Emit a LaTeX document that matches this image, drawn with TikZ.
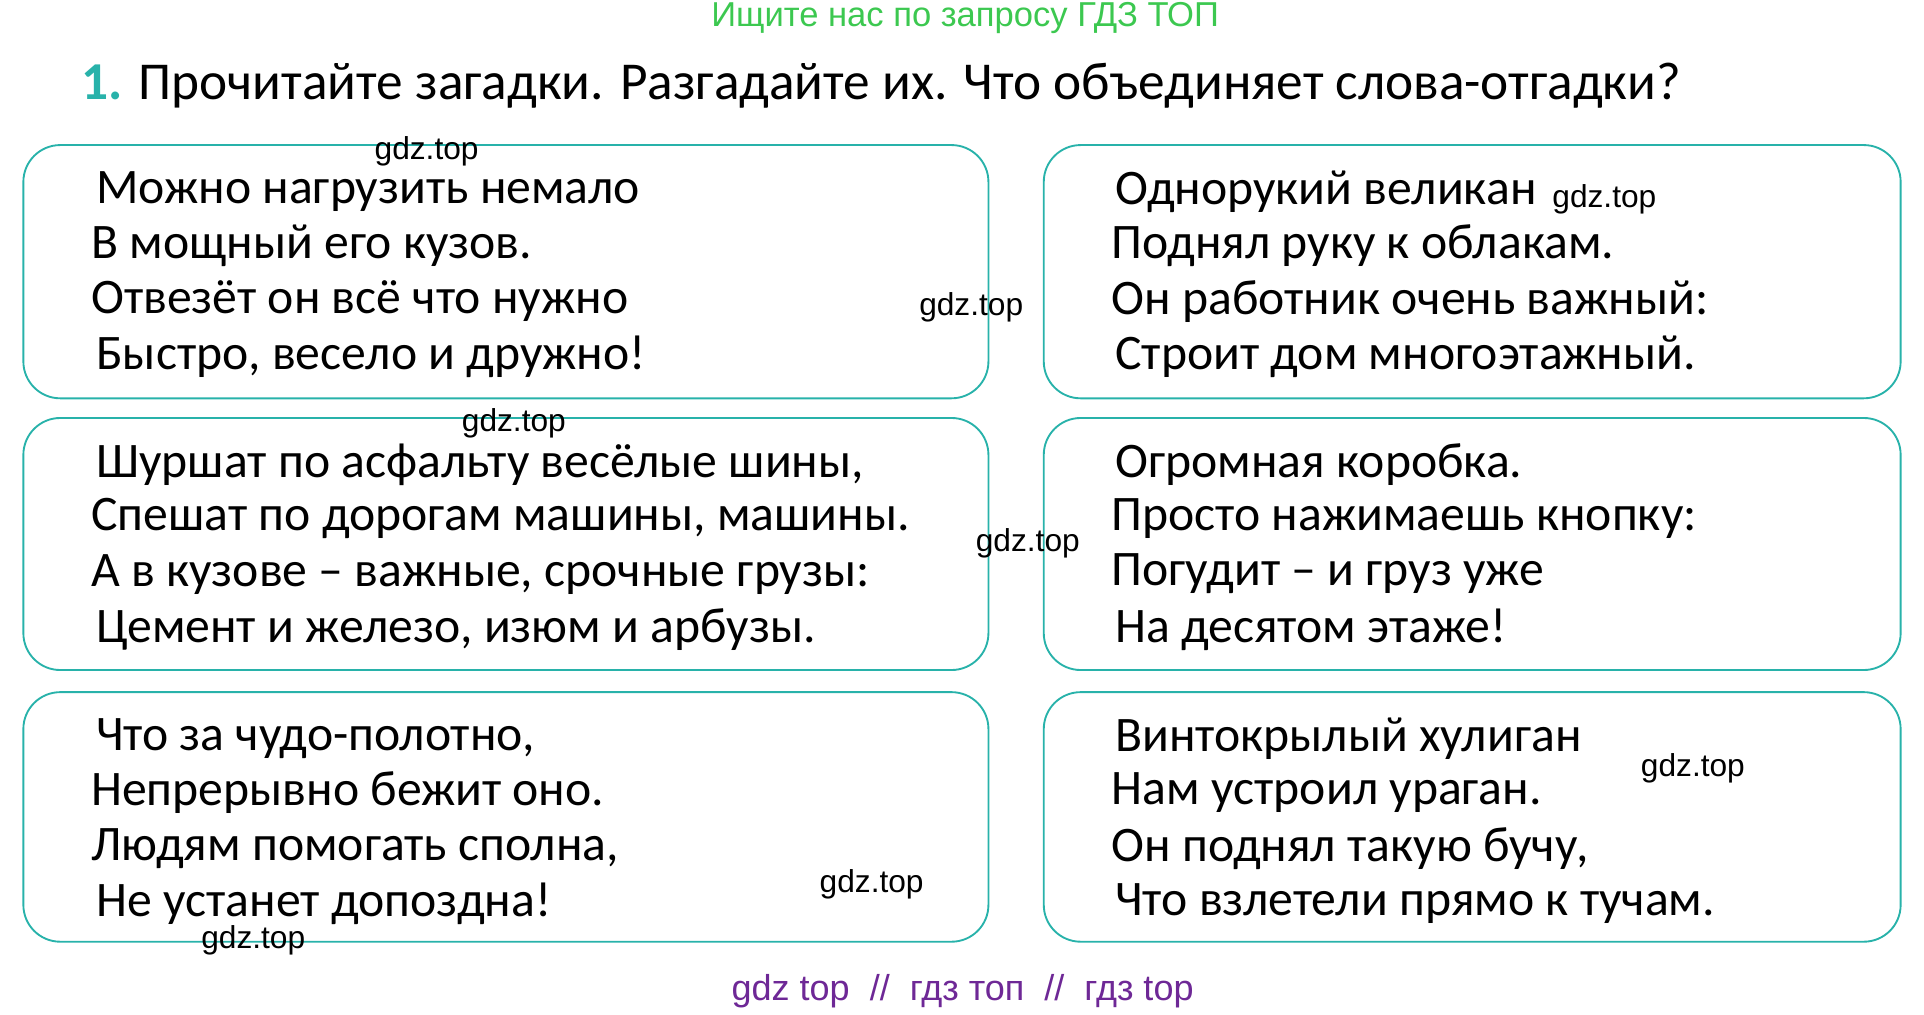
\documentclass[tikz,border=0pt]{standalone}
\usepackage{fontspec}
\setmainfont{Carlito}
\newfontfamily\wm{Liberation Sans}
\definecolor{teal1}{RGB}{40,178,170}
\definecolor{grn}{RGB}{60,200,80}
\definecolor{purp}{RGB}{110,40,150}
\begin{document}
\begin{tikzpicture}[x=0.03cm,y=-0.03cm,
  box/.style={draw=teal1,line width=1.3pt,rounded corners=0.9cm},
  vers/.style={anchor=west,font=\fontsize{34.5}{40}\selectfont,inner sep=0pt},
  wmk/.style={font=\wm\fontsize{22}{26}\selectfont,inner sep=0pt}]
\useasboundingbox (0,0) rectangle (1565,825);
\node[font=\wm\fontsize{24}{28}\selectfont,text=grn] (top) at (785,15) {Ищите нас по запросу ГДЗ ТОП};
\node[anchor=west,inner sep=0pt,font=\fontsize{37}{44}\selectfont] (title) at (66,70) {\textcolor{teal1}{\textbf{1.}} Прочитайте загадки. Разгадайте их. Что объединяет слова-отгадки?};
\foreach \n/\x/\y/\w/\h in {b1/19/118/785/206,b2/849/118/697/206,b3/19/340/785/205,b4/849/340/697/205,b5/19/563/785/203,b6/849/563/697/203}
  \draw[box] (\x,\y) rectangle ++(\w,\h) coordinate (\n);
\node[vers] (l1) at (78,156) {Можно нагрузить немало};
\node[vers] (l2) at (74,200) {В мощный его кузов.};
\node[vers] (l3) at (74,245) {Отвезёт он всё что нужно};
\node[vers] (l4) at (78,290) {Быстро, весело и дружно!};
\node[vers] (r1) at (907,156) {Однорукий великан};
\node[vers] (r2) at (904,200) {Поднял руку к облакам.};
\node[vers] (r3) at (904,245) {Он работник очень важный:};
\node[vers] (r4) at (907,290) {Строит дом многоэтажный.};
\node[vers] (l5) at (78,378) {Шуршат по асфальту весёлые шины,};
\node[vers] (l6) at (74,422) {Спешат по дорогам машины, машины.};
\node[vers] (l7) at (74,467) {А в кузове – важные, срочные грузы:};
\node[vers] (l8) at (78,512) {Цемент и железо, изюм и арбузы.};
\node[vers] (r5) at (907,378) {Огромная коробка.};
\node[vers] (r6) at (904,422) {Просто нажимаешь кнопку:};
\node[vers] (r7) at (904,467) {Погудит – и груз уже};
\node[vers] (r8) at (907,512) {На десятом этаже!};
\node[vers] (l9) at (78,601) {Что за чудо-полотно,};
\node[vers] (l10) at (74,645) {Непрерывно бежит оно.};
\node[vers] (l11) at (74,690) {Людям помогать сполна,};
\node[vers] (l12) at (78,735) {Не устанет допоздна!};
\node[vers] (r9) at (907,601) {Винтокрылый хулиган};
\node[vers] (r10) at (904,645) {Нам устроил ураган.};
\node[vers] (r11) at (904,690) {Он поднял такую бучу,};
\node[vers] (r12) at (907,735) {Что взлетели прямо к тучам.};
\node[wmk] (w1) at (347,123) {gdz.top};
\node[wmk] (w2) at (1305,162) {gdz.top};
\node[wmk] (w3) at (790,250) {gdz.top};
\node[wmk] (w4) at (418,344) {gdz.top};
\node[wmk] (w5) at (836,442) {gdz.top};
\node[wmk] (w6) at (1377,625) {gdz.top};
\node[wmk] (w7) at (709,719) {gdz.top};
\node[wmk] (w8) at (206,765) {gdz.top};
\node[font=\wm\fontsize{25}{29}\selectfont,text=purp] (bot) at (783,806) {gdz top \ // \ гдз топ \ // \ гдз top};
\end{tikzpicture}
\end{document}
